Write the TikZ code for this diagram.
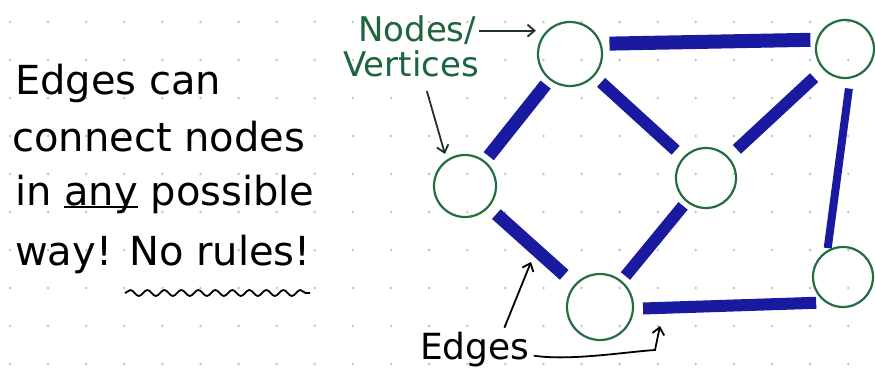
\documentclass[tikz,border=0pt]{standalone}
\usepackage{fontspec}
\setmainfont{DejaVu Sans}
\usetikzlibrary{arrows.meta,decorations.pathmorphing}
\definecolor{nodegreen}{RGB}{35,110,65}
\definecolor{textgreen}{RGB}{30,100,60}
\definecolor{edgeblue}{RGB}{26,26,160}
\definecolor{arrowdark}{RGB}{30,50,40}
\definecolor{dotgray}{RGB}{195,195,195}
\newcommand\baseul[1]{\setbox0\hbox{#1}\rlap{\rule[-3pt]{\wd0}{1.6pt}}\box0\relax}
\tikzset{
  vertex/.style={circle,draw=nodegreen,line width=2.2pt,inner sep=0pt},
  edgebar/.style={draw=edgeblue,line width=12pt},
  handarrow/.style={line width=1.8pt,-{Straight Barb[length=7pt,width=12pt]}},
  notegreen/.style={text=textgreen,font=\fontsize{34}{40}\selectfont,inner sep=0pt},
  bigtext/.style={anchor=base west,inner sep=0pt,font=\fontsize{40}{48}\selectfont},
}
\begin{document}
\begin{tikzpicture}[x=1pt,y=-1pt]
\useasboundingbox[fill=white] (0,0) rectangle (875,374);
% dot grid
\foreach \i in {0,...,22}{
  \foreach \j in {0,...,9}{
    \fill[dotgray] ({10+38.1*\i},{22+38*\j}) circle (1.4);
  }
}
% vertices
\node[vertex,minimum size=64pt] (A) at (570,54) {};
\node[vertex,minimum size=58pt] (B) at (845,49) {};
\node[vertex,minimum size=62pt] (C) at (465,186) {};
\node[vertex,minimum size=60pt] (D) at (706,178) {};
\node[vertex,minimum size=66pt] (E) at (600,307) {};
\node[vertex,minimum size=60pt] (F) at (843,277) {};
% edges
\draw[edgebar,line width=14pt,shorten <=8pt,shorten >=6pt] (A.18) -- (B.162);
\draw[edgebar,line width=13pt,shorten <=6pt,shorten >=6pt] (A) -- (C);
\draw[edgebar,shorten <=9pt,shorten >=10pt] (A) -- (D);
\draw[edgebar,shorten <=11pt,shorten >=12pt] (D) -- (B);
\draw[edgebar,line width=8pt,shorten <=10pt,shorten >=2pt] (B.-80) -- (F.120);
\draw[edgebar,line width=13pt,shorten <=10pt,shorten >=14pt] (C) -- (E);
\draw[edgebar,shorten <=6pt,shorten >=5pt] (E) -- (D);
\draw[edgebar,shorten <=9pt,shorten >=9pt] (E.-3) -- (F.-125);
% left text
\node[bigtext] (l1) at (15,95) {Edges can};
\node[bigtext] (l2) at (12,152) {connect nodes};
\node[bigtext] (l3) at (15,205) {in \baseul{any} possible};
\node[bigtext] (l4) at (15,265) {way! No rules!};
\draw[line width=1.8pt,decorate,decoration={snake,amplitude=3pt,segment length=17pt}] (125,293) -- (310,293);
% labels
\node[notegreen,anchor=base west] (nodes1) at (358,42) {Nodes/};
\node[notegreen,anchor=base west] (vert) at (343,77) {Vertices};
\draw[handarrow,draw=arrowdark,shorten <=3pt,shorten >=1pt] (nodes1.east) -- (nodes1.east -| A.west);
\draw[handarrow,draw=arrowdark,shorten <=14pt,shorten >=6pt] ([xshift=12pt]vert.south) -- (C.125);
\node[anchor=base west,inner sep=0pt,font=\fontsize{36}{40}\selectfont] (edges) at (420,359) {Edges};
\coordinate (ceTip) at (531,262);
\coordinate (efTip) at (660,326);
\draw[handarrow,shorten <=4pt] ([xshift=28pt]edges.north) -- (ceTip);
\draw[handarrow,shorten <=4pt] ([yshift=-6pt]edges.east) .. controls +(40,6) and +(-30,2) .. (655,350) -- (efTip);
\end{tikzpicture}
\end{document}
